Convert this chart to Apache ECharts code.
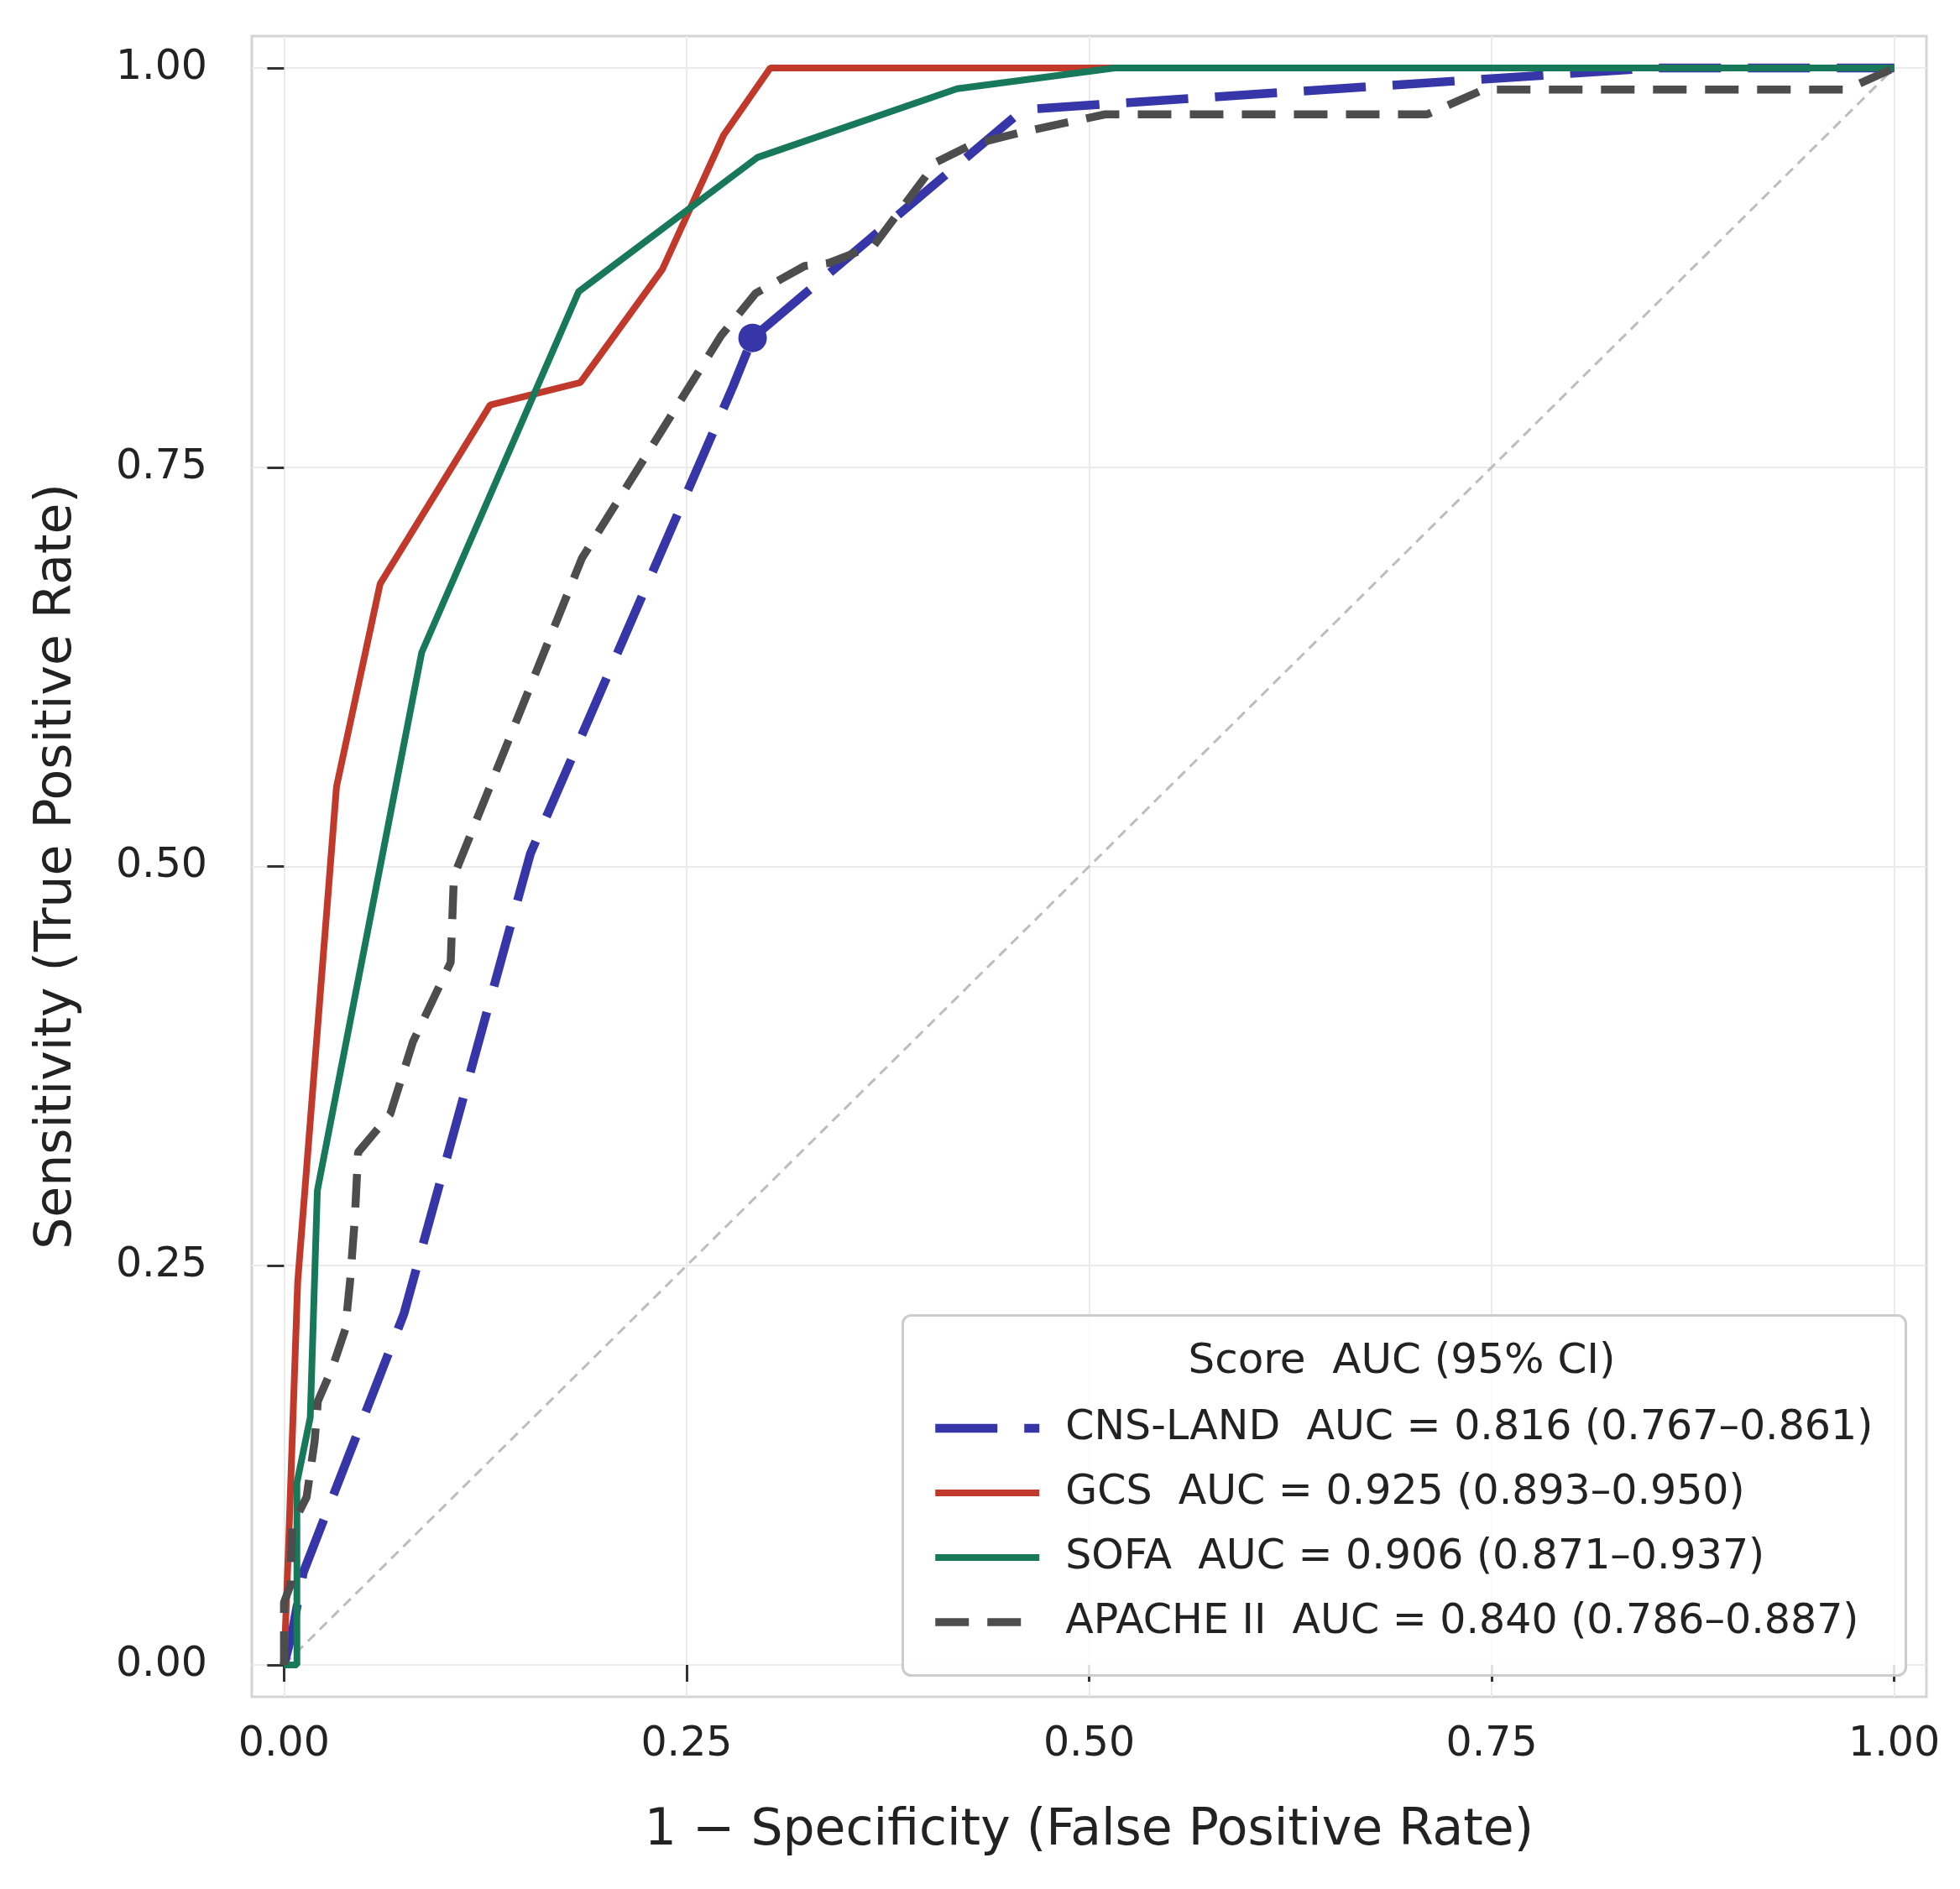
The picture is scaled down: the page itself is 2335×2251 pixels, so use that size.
<!DOCTYPE html>
<html>
<head>
<meta charset="utf-8">
<script src="https://cdn.jsdelivr.net/npm/echarts@6/dist/echarts.min.js"></script>
<style>
html, body { margin: 0; padding: 0; background: #fff; }
#echart { width: 2335px; height: 2251px; }
</style>
</head>
<body>
<div id="echart"></div>
<script>
// tick positions shared by both axes
var tickValues = [0, 0.25, 0.5, 0.75, 1];

var scoreNames = ['CNS-LAND', 'GCS', 'SOFA', 'APACHE II'];
var aucLabels = [
    'AUC = 0.816 (0.767–0.861)',
    'AUC = 0.925 (0.893–0.950)',
    'AUC = 0.906 (0.871–0.937)',
    'AUC = 0.840 (0.786–0.887)'
];

// ROC points [1 - specificity, sensitivity]
var cnsLand = [[0, 0], [0.005, 0.02], [0.012, 0.058], [0.0745, 0.22], [0.153, 0.508],
    [0.279, 0.801], [0.291, 0.831], [0.459, 0.974], [0.85, 1.0], [1, 1]];
var gcs = [[0, 0], [0.003, 0.08], [0.0085, 0.24], [0.0326, 0.55], [0.0597, 0.677],
    [0.128, 0.789], [0.184, 0.803], [0.235, 0.874], [0.273, 0.958], [0.302, 1.0], [1, 1]];
var sofa = [[0, 0], [0.008, 0], [0.008, 0.114], [0.0163, 0.155], [0.0207, 0.297],
    [0.0855, 0.634], [0.183, 0.86], [0.294, 0.944], [0.418, 0.987], [0.516, 1.0], [1, 1]];
var apache = [[0, 0], [0, 0.039], [0.004, 0.05], [0.005, 0.087], [0.014, 0.105],
    [0.019, 0.14], [0.021, 0.165], [0.03, 0.186], [0.038, 0.21], [0.041, 0.24],
    [0.044, 0.28], [0.046, 0.321], [0.056, 0.333], [0.066, 0.345], [0.08, 0.39],
    [0.1035, 0.44], [0.1055, 0.494], [0.185, 0.693], [0.2715, 0.8325], [0.293, 0.859],
    [0.3233, 0.876], [0.3386, 0.878], [0.3665, 0.889], [0.405, 0.941], [0.427, 0.952],
    [0.459, 0.96], [0.51, 0.971], [0.71, 0.971], [0.745, 0.9865], [0.97, 0.9865], [1, 1]];
var cnsCutoff = [[0.291, 0.831]];
var chance = [[0, 0], [1, 1]];

var colors = ['#3636a8', '#c0392b', '#17785a', '#4d4d4d'];
var font = 'DejaVu Sans';

var names = scoreNames.map(function (s, i) { return s + '  ' + aucLabels[i]; });

function axisCommon(name, labelMargin, nameGap) {
    return {
        type: 'value',
        min: -0.02,
        max: 1.02,
        name: name,
        nameLocation: 'middle',
        nameGap: nameGap,
        nameTextStyle: { fontSize: 60, color: '#222', fontFamily: font },
        axisLine: { show: false },
        axisTick: {
            show: true,
            customValues: tickValues,
            length: 20,
            lineStyle: { color: '#333', width: 3 }
        },
        axisLabel: {
            customValues: tickValues,
            formatter: function (v) { return v.toFixed(2); },
            fontSize: 49,
            color: '#222',
            margin: labelMargin,
            fontFamily: font
        },
        splitLine: { show: true, lineStyle: { color: '#ebebeb', width: 2 } }
    };
}

var myChart = echarts.init(document.getElementById('echart'));
var option = {
    animation: false,
    backgroundColor: '#fff',
    textStyle: { fontFamily: font },
    grid: {
        left: 300, top: 43, right: 40, bottom: 229,
        show: true,
        backgroundColor: '#fff',
        borderColor: '#d4d4d4',
        borderWidth: 3
    },
    xAxis: axisCommon('1 − Specificity (False Positive Rate)', 33, 130),
    yAxis: axisCommon('Sensitivity (True Positive Rate)', 53, 202),
    legend: {
        data: names,
        orient: 'vertical',
        left: 1109,
        top: 1674,
        padding: 0,
        itemWidth: 124,
        itemHeight: 20,
        itemGap: 21,
        itemStyle: { opacity: 0 },
        lineStyle: { width: 'inherit' },
        textStyle: { fontSize: 49, color: '#222', lineHeight: 56, padding: [0, 0, 0, 26], fontFamily: font }
    },
    graphic: [
        {
            type: 'rect', left: 1074, top: 1566, z: 3,
            shape: { width: 1195, height: 429, r: 10 },
            style: { fill: 'rgba(255,255,255,0.85)', stroke: '#cccccc', lineWidth: 3 }
        },
        {
            type: 'text', x: 1670, y: 1623, z: 5,
            style: { text: 'Score  AUC (95% CI)', fontSize: 50, fill: '#222', align: 'center', verticalAlign: 'middle', fontFamily: font }
        }
    ],
    series: [
        {
            name: 'chance', type: 'line', data: chance, symbol: 'none', silent: true, z: 1,
            lineStyle: { color: '#bdbdbd', width: 3, type: [12, 8] }
        },
        {
            name: names[0], type: 'line', data: cnsLand, symbol: 'none', z: 2,
            itemStyle: { color: colors[0] },
            lineStyle: { color: colors[0], width: 10.5, type: [74, 32] }
        },
        {
            name: names[1], type: 'line', data: gcs, symbol: 'none', z: 2,
            itemStyle: { color: colors[1] },
            lineStyle: { color: colors[1], width: 8 }
        },
        {
            name: names[2], type: 'line', data: sofa, symbol: 'none', z: 2,
            itemStyle: { color: colors[2] },
            lineStyle: { color: colors[2], width: 8 }
        },
        {
            name: names[3], type: 'line', data: apache, symbol: 'none', z: 2,
            itemStyle: { color: colors[3] },
            lineStyle: { color: colors[3], width: 9.5, type: [40, 22] }
        },
        {
            name: 'cutoff', type: 'scatter', data: cnsCutoff, symbolSize: 34, z: 2,
            itemStyle: { color: colors[0], opacity: 1 }
        }
    ]
};
myChart.setOption(option);
window.onresize = myChart.resize;
</script>
</body>
</html>
